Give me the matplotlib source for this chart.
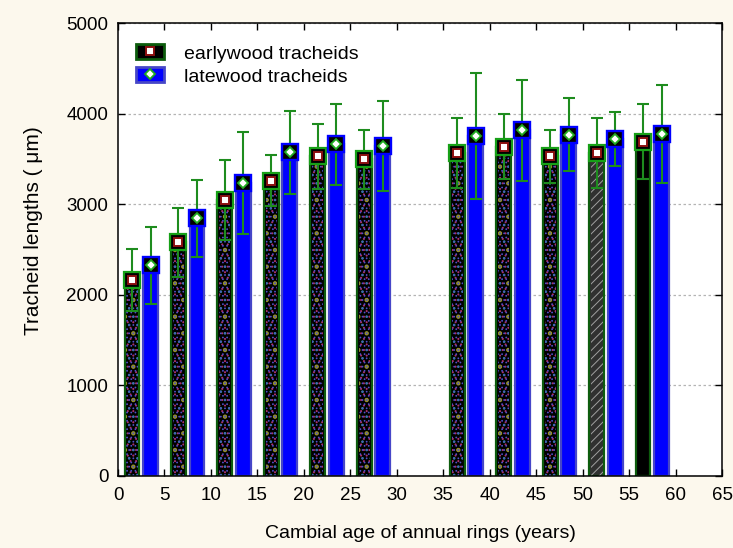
import matplotlib
matplotlib.use("Agg")
import matplotlib.pyplot as plt
from matplotlib.patches import Rectangle
from matplotlib.lines import Line2D

plt.rcParams['font.family'] = ['Liberation Sans', 'DejaVu Sans']
plt.rcParams['hatch.linewidth'] = 0.7

# ---- data ----
ew_x = [1.5, 6.5, 11.5, 16.5, 21.5, 26.5, 36.5, 41.5, 46.5, 51.5, 56.5]
lw_x = [3.5, 8.5, 13.5, 18.5, 23.5, 28.5, 38.5, 43.5, 48.5, 53.5, 58.5]
ew_mean = [2165, 2582, 3046, 3260, 3529, 3495, 3562, 3635, 3529, 3565, 3690]
ew_err = [340, 381, 443, 280, 360, 322, 385, 358, 290, 390, 414]
lw_mean = [2325, 2844, 3234, 3572, 3661, 3642, 3753, 3815, 3767, 3720, 3775]
lw_err = [423, 423, 563, 462, 450, 498, 700, 560, 403, 297, 546]
ew_style = ['speckle'] * 9 + ['gray', 'plain']

labels = ['earlywood tracheids', 'latewood tracheids']
xlabel = 'Cambial age of annual rings (years)'
ylabel = 'Tracheid lengths ( \u03bcm)'
xticks = list(range(0, 70, 5))
yticks = [0, 1000, 2000, 3000, 4000, 5000]

# ---- figure ----
fig = plt.figure(figsize=(7.33, 5.48), dpi=100, facecolor='#fcf8ed')
ax = fig.add_axes([0.161, 0.1314, 0.824, 0.8266])
ax.set_facecolor('white')

W = 1.6
EW_EDGE = '#0d5c0d'
LW_EDGE = '#4646c8'
ERR = '#1e8c1e'

# earlywood bars
for x, m, st in zip(ew_x, ew_mean, ew_style):
    face = '#303030' if st == 'gray' else 'black'
    ax.bar(x, m, width=W, color=face, edgecolor=EW_EDGE, linewidth=1.6, zorder=2)
    if st == 'speckle':
        for hc, h in [('#a8306a', '...'), ('#2a8e8e', '..'), ('#9a9426', '.'), ('#5050c8', '....')]:
            ax.bar(x, m, width=W * 0.75, color='none', edgecolor=hc, hatch=h,
                   linewidth=0, zorder=2.1)
    elif st == 'gray':
        ax.bar(x, m, width=W * 0.8, color='none', edgecolor='#a0a0a0', hatch='////',
               linewidth=0, zorder=2.1)

# latewood bars
ax.bar(lw_x, lw_mean, width=W, color='#0000ff', edgecolor=LW_EDGE, linewidth=1.6, zorder=2)

# error bars
ax.errorbar(ew_x, ew_mean, yerr=ew_err, fmt='none', ecolor=ERR, elinewidth=1.5,
            capsize=4, capthick=1.5, zorder=3)
ax.errorbar(lw_x, lw_mean, yerr=lw_err, fmt='none', ecolor=ERR, elinewidth=1.5,
            capsize=4, capthick=1.5, zorder=3)

# markers
ax.plot(ew_x, ew_mean, ls='none', marker='s', ms=11, mfc='black', mec='#17a017',
        mew=1.6, zorder=4)
ax.plot(ew_x, ew_mean, ls='none', marker='s', ms=5.5, mfc='white', mec='#8b1010',
        mew=1.4, zorder=5)
ax.plot(lw_x, lw_mean, ls='none', marker='s', ms=11.5, mfc='black', mec='#0000ff',
        mew=1.7, zorder=4)
ax.plot(lw_x, lw_mean, ls='none', marker='D', ms=5, mfc='white', mec='#1faa1f',
        mew=1.3, zorder=5)

# axes formatting
ax.set_xlim(0, 65)
ax.set_ylim(0, 5000)
ax.set_xticks(xticks)
ax.set_yticks(yticks)
ax.tick_params(direction='in', top=True, right=True, length=5, width=1,
               labelsize=13.5, colors='black')
ax.tick_params(axis='y', pad=7)
ax.tick_params(axis='x', pad=8)
for s in ax.spines.values():
    s.set_linewidth(1.1)
ax.yaxis.grid(True, color='#b4b4b4', linestyle=(0, (2, 2)), linewidth=0.9)
ax.set_axisbelow(True)

ax.set_xlabel(xlabel, fontsize=14)
ax.set_ylabel(ylabel, fontsize=15)
ax.xaxis.set_label_coords(0.5, -0.108)
ax.yaxis.set_label_coords(-0.125, 0.541)

# legend
h_ew = (Rectangle((0, 0), 1, 1, facecolor='black', edgecolor=EW_EDGE, linewidth=2),
        Line2D([], [], ls='none', marker='s', ms=5.5, mfc='white', mec='#8b1010', mew=1.4))
h_lw = (Rectangle((0, 0), 1, 1, facecolor='#0000ff', edgecolor=LW_EDGE, linewidth=2),
        Line2D([], [], ls='none', marker='D', ms=5, mfc='white', mec='#1faa1f', mew=1.3))
ax.legend([h_ew, h_lw], labels, loc='upper left', bbox_to_anchor=(0.03, 0.953),
          frameon=False, fontsize=14, handlelength=1.45, handleheight=0.8,
          handletextpad=1.0, labelspacing=0.25, borderpad=0, borderaxespad=0)

fig.savefig('out.png', dpi=100, facecolor=fig.get_facecolor())
